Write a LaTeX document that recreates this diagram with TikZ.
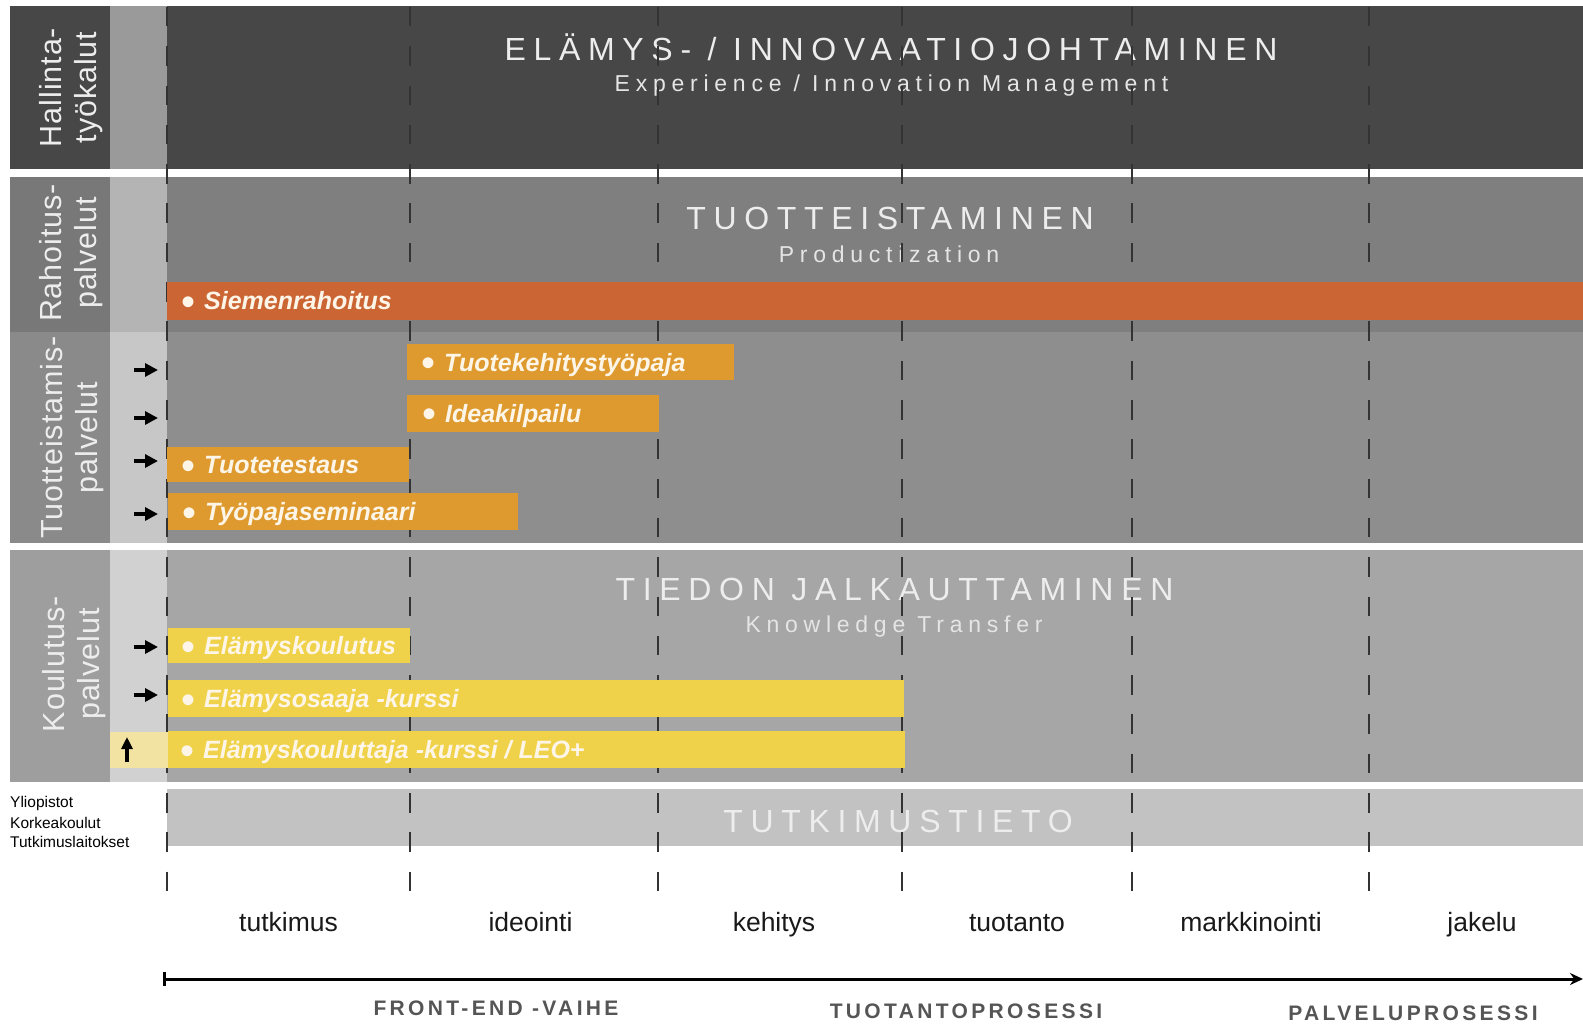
\documentclass[tikz,border=0pt]{standalone}
\usepackage{fontspec}
\setmainfont{Liberation Sans}
\newfontfamily\titlefont[LetterSpace=24]{Liberation Sans}
\newfontfamily\subtfont[LetterSpace=25]{Liberation Sans}
\newfontfamily\procfont[LetterSpace=16]{Liberation Sans}
\newfontfamily\sidefont[LetterSpace=3]{Liberation Sans}
\usetikzlibrary{arrows.meta}
\definecolor{mainA}{HTML}{474747}
\definecolor{mainB}{HTML}{7F7F7F}
\definecolor{mainC}{HTML}{8E8E8E}
\definecolor{mainD}{HTML}{A6A6A6}
\definecolor{labB}{HTML}{787878}
\definecolor{labC}{HTML}{8A8A8A}
\definecolor{labD}{HTML}{9E9E9E}
\definecolor{stripA}{HTML}{9A9A9A}
\definecolor{stripB}{HTML}{B4B4B4}
\definecolor{stripC}{HTML}{C7C7C7}
\definecolor{stripD}{HTML}{D1D1D1}
\definecolor{tutk}{HTML}{C2C2C2}
\definecolor{orangebar}{HTML}{CC6534}
\definecolor{goldbar}{HTML}{DE9A2E}
\definecolor{yellowbar}{HTML}{F0D24A}
\definecolor{paleyellow}{HTML}{F3E3A3}
\definecolor{bartext}{HTML}{FDF6E8}
\definecolor{proc}{HTML}{555555}
\newcommand\bul{\raisebox{-5.5pt}{\fontsize{40}{40}\selectfont\upshape\mdseries •}\hspace{9pt}}
\begin{document}
\begin{tikzpicture}[x=1pt,y=-1pt,
  sidelabel/.style={rotate=90, align=center, inner sep=0pt, text=white!93!black,
    font=\sidefont\fontsize{30.5}{35}\selectfont},
  bigtitle/.style={anchor=base, inner sep=0pt, text=white!93!black,
    font=\titlefont\fontsize{32}{32}\selectfont},
  subtitle/.style={anchor=base, inner sep=0pt, text=white!90!black,
    font=\subtfont\fontsize{23}{23}\selectfont},
  bartxt/.style={anchor=base west, inner sep=0pt, text=bartext,
    font=\fontsize{25}{25}\selectfont\bfseries\itshape},
  phaseline/.style={black!80, line width=1.3pt, dash pattern=on 19.5pt off 19.8pt},
  phase/.style={anchor=base, inner sep=0pt, text=black!90, font=\fontsize{26.5}{26.5}\selectfont},
  proclabel/.style={anchor=base, inner sep=0pt, text=proc, font=\procfont\bfseries\fontsize{21}{21}\selectfont},
  smalltxt/.style={anchor=base west, inner sep=0pt, font=\fontsize{15.5}{15.5}\selectfont},
  feedarrow/.style={line width=3.6pt, -{Triangle[length=13pt,width=13pt]}}
]
\useasboundingbox (0,0) rectangle (1583,1024);
\fill[white] (0,0) rectangle (1583,1024);
% ---- bands ----
\fill[mainA] (10,6) rectangle (1583,169);
\fill[stripA] (110,6) rectangle (167,169);
\fill[mainB] (167,177) rectangle (1583,332);
\fill[labB] (10,177) rectangle (110,332);
\fill[stripB] (110,177) rectangle (167,332);
\fill[mainC] (167,332) rectangle (1583,543);
\fill[labC] (10,332) rectangle (110,543);
\fill[stripC] (110,332) rectangle (167,543);
\fill[mainD] (167,550) rectangle (1583,782);
\fill[labD] (10,550) rectangle (110,782);
\fill[stripD] (110,550) rectangle (167,782);
\fill[tutk] (167,789) rectangle (1583,846);
% ---- side labels ----
\node[sidelabel] (lab1) at (71,87.5) {Hallinta-\\työkalut};
\node[sidelabel] (lab2) at (71,253) {Rahoitus-\\palvelut};
\node[sidelabel] (lab3) at (72,437.5) {Tuotteistamis-\\palvelut};
\node[sidelabel] (lab4) at (74,664) {Koulutus-\\palvelut};
% ---- titles ----
\node[bigtitle] (t1) at (891,61) {ELÄMYS- / INNOVAATIOJOHTAMINEN};
\node[subtitle] (s1) at (891.5,92) {Experience / Innovation Management};
\node[bigtitle] (t2) at (890,230) {TUOTTEISTAMINEN};
\node[subtitle] (s2) at (889,263) {Productization};
\node[bigtitle] (t3) at (894.5,600) {TIEDON JALKAUTTAMINEN};
\node[subtitle] (s3) at (894,632) {Knowledge Transfer};
\node[bigtitle] (t4) at (898,832) {TUTKIMUSTIETO};
% ---- phase lines ----
\foreach \x in {167,410,658,902,1132,1369}
  \draw[phaseline] (\x,7) -- (\x,892);
% ---- bars ----
\fill[orangebar] (167,282) rectangle (1583,320);
\fill[goldbar] (407,344) rectangle (734,380);
\fill[goldbar] (407,395) rectangle (659,432);
\fill[goldbar] (167,447) rectangle (409,482);
\fill[goldbar] (168,493) rectangle (518,530);
\fill[yellowbar] (168,628) rectangle (410,663);
\fill[yellowbar] (168,680) rectangle (904,717);
\fill[paleyellow] (110,732) rectangle (168,768);
\fill[yellowbar] (168,731) rectangle (905,768);
\node[bartxt] (b1) at (181,310) {\bul Siemenrahoitus};
\node[bartxt] (b2) at (421,371) {\bul Tuotekehitystyöpaja};
\node[bartxt] (b3) at (422,422.5) {\bul Ideakilpailu};
\node[bartxt] (b4) at (181,473.5) {\bul Tuotetestaus};
\node[bartxt] (b5) at (182,520.5) {\bul Työpajaseminaari};
\node[bartxt] (b6) at (181,654.5) {\bul Elämyskoulutus};
\node[bartxt] (b7) at (181,707.5) {\bul Elämysosaaja -kurssi};
\node[bartxt] (b8) at (180,758.5) {\bul Elämyskouluttaja -kurssi / LEO+};
% ---- feed arrows ----
\foreach \n/\y in {1/370,2/418,3/461,4/514,5/647,6/695}{
  \coordinate (fa\n) at (134,\y);
  \coordinate (fb\n) at (158,\y);
  \draw[feedarrow] (fa\n) -- (fb\n);
}
\coordinate (ua) at (127,762);
\coordinate (ub) at (127,737);
\draw[line width=3.2pt, -{Triangle[length=12pt,width=11pt]}] (ua) -- (ub);
% ---- small left texts ----
\node[smalltxt] (y1) at (10,807) {Yliopistot};
\node[smalltxt] (y2) at (10,828) {Korkeakoulut};
\node[smalltxt] (y3) at (10,847) {Tutkimuslaitokset};
% ---- phases ----
\node[phase] (p1) at (288.5,931) {tutkimus};
\node[phase] (p2) at (530.5,931) {ideointi};
\node[phase] (p3) at (774,931) {kehitys};
\node[phase] (p4) at (1017,931) {tuotanto};
\node[phase] (p5) at (1251,931) {markkinointi};
\node[phase] (p6) at (1482,931) {jakelu};
% ---- axis ----
\coordinate (axs) at (163,979);
\coordinate (axe) at (1583,979);
\draw[line width=3pt, {Bar[width=14pt]}-{Stealth[length=13pt,width=12pt]}] (axs) -- (axe);
\node[proclabel] (q1) at (496,1015) {FRONT-END -VAIHE};
\node[proclabel] (q2) at (966,1018) {TUOTANTOPROSESSI};
\node[proclabel] (q3) at (1413,1020) {PALVELUPROSESSI};
\end{tikzpicture}
\end{document}
